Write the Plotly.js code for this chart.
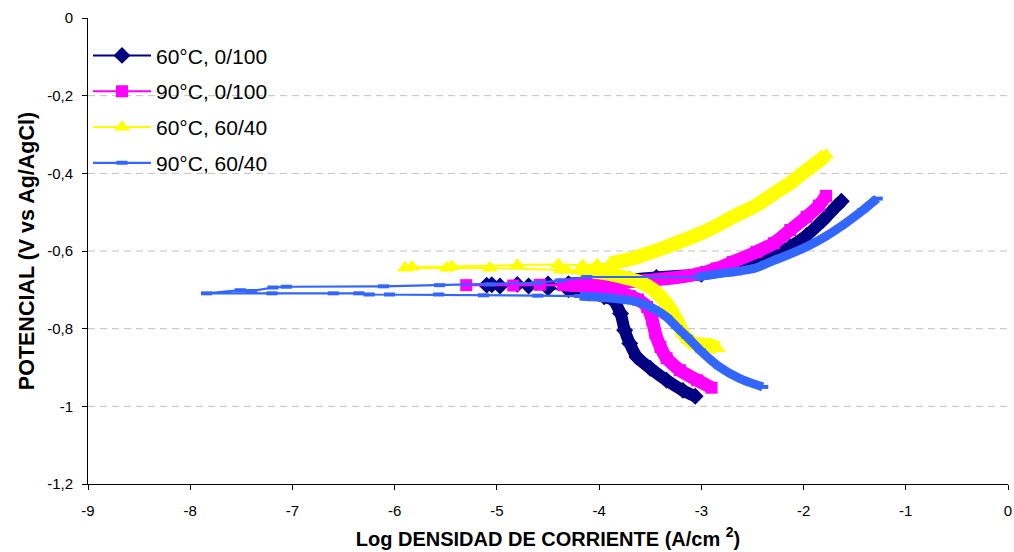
<!DOCTYPE html>
<html>
<head>
<meta charset="utf-8">
<script src="https://cdn.plot.ly/plotly-3.0.1.min.js"></script>
<style>html,body{margin:0;padding:0;background:#fff;}#chart{width:1014px;height:552px;}</style>
</head>
<body>
<div id="chart"></div>
<script>
// ---- Data (log current density, potential V vs Ag/AgCl) ----
var seriesNames = ['60°C, 0/100', '90°C, 0/100', '60°C, 60/40', '90°C, 60/40'];

// 60°C, 0/100
var s1CathX = [-3.06, -3.18, -3.34, -3.50, -3.63, -3.70, -3.75, -3.79, -3.86, -3.95, -4.10, -4.30];
var s1CathY = [-0.974, -0.959, -0.933, -0.902, -0.873, -0.838, -0.804, -0.761, -0.727, -0.718, -0.708, -0.700];
var s1MidX = [-4.50, -4.69, -4.97, -5.10, -5.05, -4.80, -4.50];
var s1MidY = [-0.695, -0.690, -0.690, -0.688, -0.687, -0.686, -0.685];
var s1AnoX = [-4.30, -4.00, -3.70, -3.44, -3.00, -2.62, -2.46, -2.29, -2.13, -1.97, -1.81, -1.68, -1.63];
var s1AnoY = [-0.684, -0.680, -0.674, -0.668, -0.660, -0.642, -0.632, -0.611, -0.589, -0.560, -0.521, -0.485, -0.472];

// 90°C, 0/100
var s2CathX = [-2.90, -3.04, -3.21, -3.34, -3.40, -3.45, -3.48, -3.53, -3.62, -3.70, -3.86, -4.09, -4.30];
var s2CathY = [-0.952, -0.933, -0.907, -0.876, -0.847, -0.812, -0.778, -0.744, -0.725, -0.716, -0.701, -0.690, -0.688];
var s2MidX = [-4.35, -4.84, -5.30, -4.58, -4.35];
var s2MidY = [-0.688, -0.689, -0.688, -0.687, -0.686];
var s2AnoX = [-4.20, -4.00, -3.75, -3.50, -3.21, -3.01, -2.85, -2.69, -2.46, -2.29, -2.13, -1.97, -1.85, -1.78];
var s2AnoY = [-0.686, -0.684, -0.680, -0.675, -0.667, -0.658, -0.645, -0.628, -0.602, -0.580, -0.546, -0.512, -0.483, -0.458];

// 60°C, 60/40
var s3CathX = [-2.84, -2.91, -3.08, -3.18, -3.24, -3.34, -3.47, -3.60, -3.80, -4.00, -4.20];
var s3CathY = [-0.851, -0.843, -0.838, -0.812, -0.778, -0.735, -0.700, -0.680, -0.665, -0.655, -0.650];
var s3MidX = [-4.32, -4.38, -5.07, -5.49, -5.90, -5.83, -5.44, -4.80, -4.40, -4.16, -4.02];
var s3MidY = [-0.649, -0.648, -0.644, -0.644, -0.644, -0.641, -0.640, -0.636, -0.635, -0.637, -0.635];
var s3AnoX = [-3.89, -3.67, -3.50, -3.34, -3.01, -2.85, -2.69, -2.46, -2.29, -2.13, -1.97, -1.85, -1.78];
var s3AnoY = [-0.632, -0.619, -0.604, -0.589, -0.555, -0.535, -0.512, -0.482, -0.452, -0.425, -0.392, -0.368, -0.353];

// 90°C, 60/40
var s4CathX = [-2.40, -2.62, -2.82, -3.01, -3.14, -3.24, -3.34, -3.47, -3.63, -3.86, -4.19];
var s4CathY = [-0.950, -0.929, -0.899, -0.856, -0.821, -0.796, -0.770, -0.748, -0.731, -0.722, -0.716];
var s4MidX = [-4.60, -5.13, -5.57, -6.05, -6.25, -6.35, -6.60, -7.20, -7.84, -7.51, -7.40, -7.19, -7.06, -6.11, -5.56, -5.07, -4.61, -4.38, -4.12];
var s4MidY = [-0.715, -0.714, -0.712, -0.712, -0.712, -0.709, -0.709, -0.709, -0.709, -0.701, -0.703, -0.694, -0.692, -0.691, -0.688, -0.686, -0.682, -0.676, -0.667];
var s4AnoX = [-3.04, -2.79, -2.69, -2.46, -2.29, -2.20, -1.97, -1.80, -1.64, -1.42, -1.28];
var s4AnoY = [-0.667, -0.657, -0.654, -0.643, -0.624, -0.615, -0.589, -0.565, -0.538, -0.495, -0.465];

var xTickVals = [-9, -8, -7, -6, -5, -4, -3, -2, -1, 0];
var xTickText = ['-9', '-8', '-7', '-6', '-5', '-4', '-3', '-2', '-1', '0'];
var yTickVals = [0, -0.2, -0.4, -0.6, -0.8, -1, -1.2];
var yTickText = ['0', '-0,2', '-0,4', '-0,6', '-0,8', '-1', '-1,2'];

// ---- Styling ----
var FONT = 'Arial, "Liberation Sans", sans-serif';
var styles = [
  {color: '#000080', symbol: 'diamond', size: 13, band: 12, lw: 2},
  {color: '#FF00FF', symbol: 'square', size: 12, band: 13, lw: 2},
  {color: '#FFFF00', symbol: 'triangle-up', size: 14, band: 14, lw: 2},
  {color: '#3366FF', symbol: 'line-ew', size: 8, band: 9, lw: 2.2}
];
var groups = [
  [s1CathX, s1CathY, s1MidX, s1MidY, s1AnoX, s1AnoY],
  [s2CathX, s2CathY, s2MidX, s2MidY, s2AnoX, s2AnoY],
  [s3CathX, s3CathY, s3MidX, s3MidY, s3AnoX, s3AnoY],
  [s4CathX, s4CathY, s4MidX, s4MidY, s4AnoX, s4AnoY]
];

var traces = [];
groups.forEach(function (g, i) {
  var st = styles[i];
  // dense bands (overlapping markers in original)
  [[g[0], g[1]], [g[4], g[5]]].forEach(function (b) {
    traces.push({
      x: b[0], y: b[1], mode: 'lines', type: 'scatter',
      line: {color: st.color, width: st.band, shape: 'spline', smoothing: 0.6},
      showlegend: false, hoverinfo: 'skip', legendgroup: 'g' + i
    });
  });
  var marker = {symbol: st.symbol, size: st.size, color: st.color};
  if (st.symbol === 'line-ew') marker.line = {color: st.color, width: 4};
  traces.push({
    x: g[0].concat(g[2], g[4]),
    y: g[1].concat(g[3], g[5]),
    mode: 'lines+markers', type: 'scatter', name: seriesNames[i],
    line: {color: st.color, width: st.lw},
    marker: marker, legendgroup: 'g' + i
  });
});

var gridShapes = yTickVals.filter(function (v) { return v < 0 && v > -1.2; }).map(function (v) {
  return {type: 'line', xref: 'paper', x0: 0, x1: 1, yref: 'y', y0: v, y1: v, layer: 'below',
          line: {color: '#c0c0c0', width: 1, dash: '7px,5px'}};
});

var layout = {
  width: 1014, height: 552,
  margin: {l: 88, r: 6, t: 18, b: 68},
  paper_bgcolor: '#fff', plot_bgcolor: '#fff',
  font: {family: FONT, color: '#000'},
  showlegend: true,
  legend: {x: 0.0, y: 0.963, xanchor: 'left', yanchor: 'top', bgcolor: 'rgba(0,0,0,0)',
           font: {size: 21, family: FONT, color: '#000'}, traceorder: 'grouped', tracegroupgap: 5.5,
           itemwidth: 58},
  xaxis: {range: [-9, 0], tickvals: xTickVals, ticktext: xTickText, ticks: 'outside', ticklen: 5,
          tickcolor: '#000', showline: true, linecolor: '#000', linewidth: 1, showgrid: false, zeroline: false,
          tickfont: {size: 15, family: FONT}, ticklabelstandoff: 8,
          title: {text: '<b>Log DENSIDAD DE CORRIENTE (A/cm <sup>2</sup>)</b>', font: {size: 20, family: FONT}, standoff: 13}},
  yaxis: {range: [-1.2, 0], tickvals: yTickVals, ticktext: yTickText, ticks: 'outside', ticklen: 5,
          tickcolor: '#000', showline: true, linecolor: '#000', linewidth: 1, showgrid: false, zeroline: false,
          tickfont: {size: 15, family: FONT}, ticklabelstandoff: 6,
          title: {text: '<b>POTENCIAL (V vs Ag/AgCl)</b>', font: {size: 21.5, family: FONT}, standoff: 6}},
  shapes: gridShapes
};

Plotly.newPlot('chart', traces, layout, {displayModeBar: false, staticPlot: true});
</script>
</body>
</html>
